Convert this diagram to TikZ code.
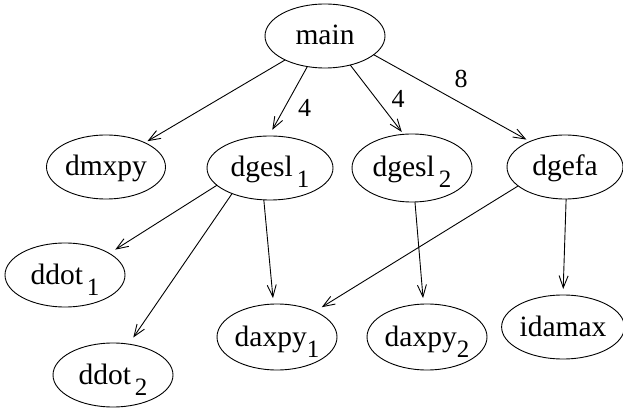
\documentclass[tikz,border=0pt]{standalone}
\usepackage{fontspec}
\setmainfont{Liberation Serif}
\usetikzlibrary{arrows.meta,shapes.geometric}

% lowered subscript index used in the call-graph labels
\newcommand{\idx}[1]{\raisebox{-11pt}[0pt][0pt]{\fontsize{25}{25}\selectfont #1}}

\begin{document}
\begin{tikzpicture}[x=1pt,y=-1pt,
  fn/.style={draw, ellipse, line width=0.9pt, inner sep=0pt, outer sep=0pt,
    minimum width=120pt, minimum height=64pt,
    text height=18pt, text depth=0pt,
    font=\fontsize{29.5}{31}\selectfont},
  call/.style={line width=0.9pt, -{Straight Barb[length=12pt,width=9pt,line width=0.9pt]}},
  weight/.style={inner sep=0pt, font=\fontsize{26}{26}\selectfont}]

  \useasboundingbox (0,0) rectangle (623,411);

  % functions
  \node[fn] (main)   at (325,36)  {main};
  \node[fn, minimum width=119pt] (dmxpy)  at (106,167) {dmxpy};
  \node[fn, minimum width=126pt] (dgesl1) at (270,168) {dgesl\kern4pt\idx{1}};
  \node[fn, minimum height=68pt] (dgesl2) at (412,168) {dgesl\kern4pt\idx{2}};
  \node[fn, minimum width=116pt] (dgefa)  at (565,167) {dgefa};
  \node[fn] (ddot1)  at (65,275)  {ddot\kern4pt\idx{1}};
  \node[fn] (ddot2)  at (113,375) {ddot\kern4pt\idx{2}};
  \node[fn, minimum height=66pt] (daxpy1) at (277,337) {daxpy\idx{1}};
  \node[fn, minimum height=66pt] (daxpy2) at (427,337) {daxpy\idx{2}};
  \node[fn, minimum width=118pt] (idamax) at (563,327) {idamax};

  % calls
  \draw[call, shorten >=3pt] (main.211) -- (dmxpy.32);
  \draw[call, shorten >=7pt] (main.240) -- (dgesl1.92);
  \draw[call, shorten >=3pt] (main.311) -- (dgesl2.104);
  \draw[call, shorten >=4pt] (main.339) -- (dgefa.144);

  \draw[call, shorten >=7pt] (dgesl1.198) -- (ddot1.26);
  \draw[call, shorten >=8pt] (dgesl1.214) -- (ddot2.63);
  \draw[call, shorten >=6pt] (dgesl1.259) -- (daxpy1.96);
  \draw[call, shorten >=6pt] (dgesl2.275) -- (daxpy2.96);
  \draw[call, shorten >=8pt] (dgefa.202)  -- (daxpy1.34);
  \draw[call, shorten >=6pt] (dgefa.272)  -- (idamax.90);

  % call counts
  \node[weight] (w1) at (304.5,108) {4};
  \node[weight] (w2) at (398,99)    {4};
  \node[weight] (w3) at (461,79)    {8};
\end{tikzpicture}
\end{document}
